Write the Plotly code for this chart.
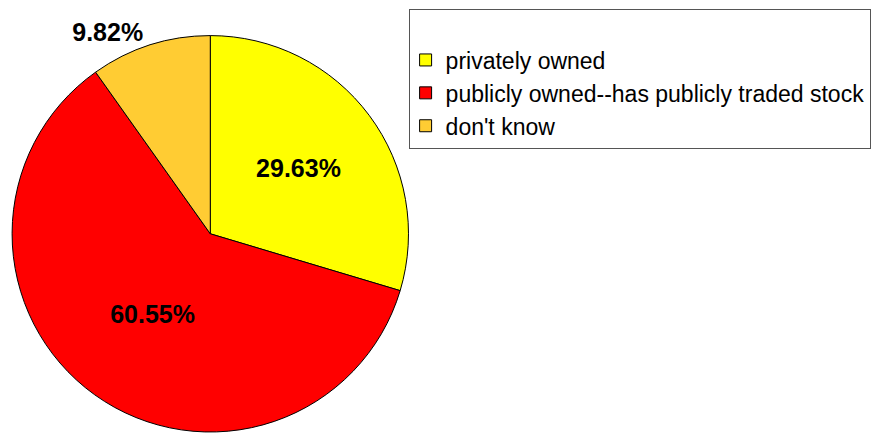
import plotly.graph_objects as go

labels = ["privately owned", "publicly owned--has publicly traded stock", "don't know"]
values = [29.63, 60.55, 9.82]
colors = ["#FFFF00", "#FF0000", "#FFCC33"]
text_positions = ["inside", "inside", "outside"]

W, H = 876, 437

fig = go.Figure(go.Pie(
    labels=labels,
    values=values,
    sort=False,
    direction="clockwise",
    rotation=0,
    marker=dict(colors=colors, line=dict(color="black", width=1)),
    texttemplate="<b>%{value:.2f}%</b>",
    textposition=text_positions,
    textfont=dict(family="Liberation Sans, Arial, sans-serif", size=25, color="black"),
    insidetextorientation="horizontal",
    domain=dict(x=[6 / W, 410 / W], y=[0, 401 / H]),
    hoverinfo="label+percent",
    showlegend=True,
))

fig.update_layout(
    width=W, height=H,
    margin=dict(l=0, r=0, t=0, b=0),
    paper_bgcolor="white",
    plot_bgcolor="white",
    font=dict(family="Liberation Sans, Arial, sans-serif", color="black"),
    legend=dict(
        x=407 / W, y=1 - 9 / H, xanchor="left", yanchor="top",
        bordercolor="#555555", borderwidth=1,
        bgcolor="white",
        font=dict(size=23, color="black"),
        title=dict(text="\u00a0", font=dict(size=22)),
        traceorder="normal",
        indentation=-4,
    ),
)

fig.write_html("out.html")
